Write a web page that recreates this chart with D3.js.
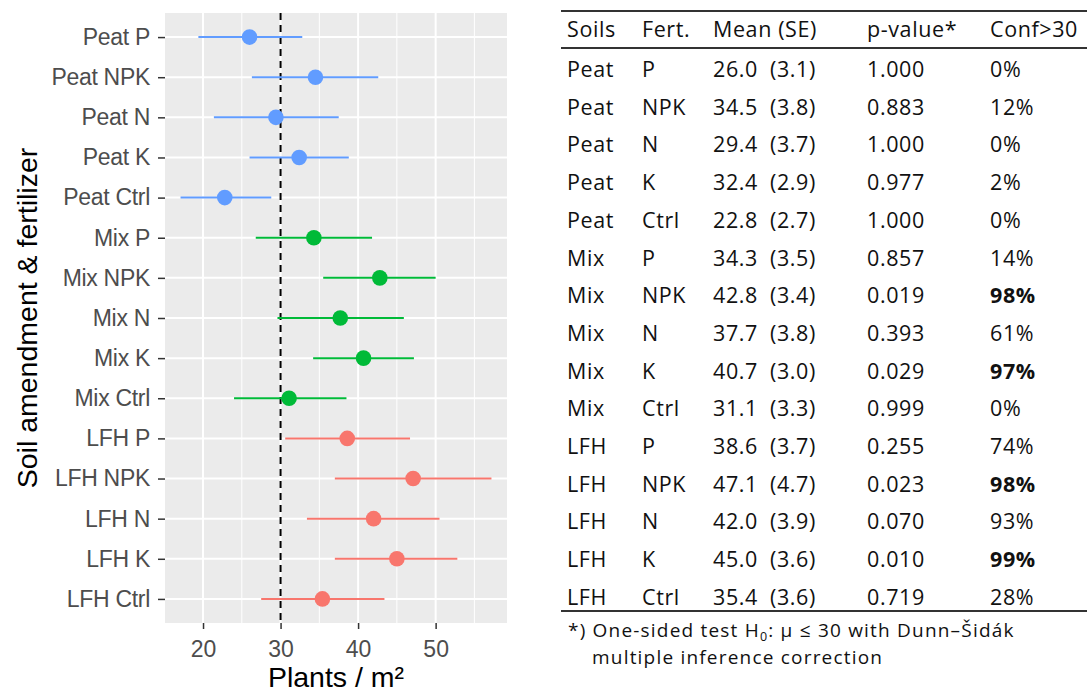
<!DOCTYPE html>
<html>
<head>
<meta charset="utf-8">
<script src="https://cdn.jsdelivr.net/npm/d3@7"></script>
<style>
  body { margin: 0; background: #fff; }
</style>
</head>
<body>
<div id="chart"></div>
<script>
// rows, in plot order top to bottom (same order as the table)
var soils = ["Peat","Peat","Peat","Peat","Peat","Mix","Mix","Mix","Mix","Mix","LFH","LFH","LFH","LFH","LFH"];
var ferts = ["P","NPK","N","K","Ctrl","P","NPK","N","K","Ctrl","P","NPK","N","K","Ctrl"];
var means = [26.0, 34.5, 29.4, 32.4, 22.8, 34.3, 42.8, 37.7, 40.7, 31.1, 38.6, 47.1, 42.0, 45.0, 35.4];
var ses   = [3.1, 3.8, 3.7, 2.9, 2.7, 3.5, 3.4, 3.8, 3.0, 3.3, 3.7, 4.7, 3.9, 3.6, 3.6];
var pvals = ["1.000","0.883","1.000","0.977","1.000","0.857","0.019","0.393","0.029","0.999","0.255","0.023","0.070","0.010","0.719"];
var confs = [0, 12, 0, 2, 0, 14, 98, 61, 97, 0, 74, 98, 93, 99, 28];
// interval ends
var ciLow  = [19.4, 26.3, 21.4, 26.0, 17.1, 26.8, 35.5, 29.6, 34.2, 24.0, 30.6, 37.0, 33.4, 37.0, 27.5];
var ciHigh = [32.8, 42.6, 37.5, 38.8, 28.8, 41.8, 50.0, 45.9, 47.2, 38.5, 46.7, 57.2, 50.5, 52.8, 43.4];

var xTicks = [20, 30, 40, 50];
var xMinor = [15, 25, 35, 45, 55];
var refValue = 30;
var soilColors = {LFH: "#F8766D", Mix: "#00BA38", Peat: "#619CFF"};
var headers = ["Soils", "Fert.", "Mean (SE)", "p-value*", "Conf>30"];

var labels = soils.map(function(s, i){ return s + " " + ferts[i]; });
var rows = labels.map(function(l, i){
    return {label: l, soil: soils[i], fert: ferts[i], mean: means[i], se: ses[i],
            p: pvals[i], conf: confs[i], lo: ciLow[i], hi: ciHigh[i]};
});

var W = 1087, H = 694;
var svg = d3.select("#chart").append("svg")
    .attr("width", W).attr("height", H)
    .style("font-family", "'Liberation Sans', Arial, sans-serif");

// ---------------- forest plot ----------------
var panel = {left: 165, right: 507, top: 13, bottom: 623};

var lo = d3.min(rows, function(d){ return d.lo; }),
    hi = d3.max(rows, function(d){ return d.hi; });
var pad = (hi - lo) * 0.05;
var x = d3.scaleLinear()
    .domain([lo - pad, hi + pad])
    .range([panel.left, panel.right]);

var y = d3.scalePoint()
    .domain(labels)
    .range([panel.top, panel.bottom])
    .padding(0.6);

svg.append("rect")
    .attr("x", panel.left).attr("y", panel.top)
    .attr("width", panel.right - panel.left)
    .attr("height", panel.bottom - panel.top)
    .attr("fill", "#EBEBEB");

var grid = svg.append("g");
grid.selectAll(".minor")
    .data(xMinor.filter(function(v){ return v >= x.domain()[0] - 0.1 && v <= x.domain()[1]; }))
    .enter().append("line")
    .attr("x1", function(d){ return x(d); }).attr("x2", function(d){ return x(d); })
    .attr("y1", panel.top).attr("y2", panel.bottom)
    .attr("stroke", "#fff").attr("stroke-width", 1);
grid.selectAll(".major")
    .data(xTicks)
    .enter().append("line")
    .attr("x1", function(d){ return x(d); }).attr("x2", function(d){ return x(d); })
    .attr("y1", panel.top).attr("y2", panel.bottom)
    .attr("stroke", "#fff").attr("stroke-width", 2);
grid.selectAll(".hgrid")
    .data(labels)
    .enter().append("line")
    .attr("x1", panel.left).attr("x2", panel.right)
    .attr("y1", function(d){ return y(d); }).attr("y2", function(d){ return y(d); })
    .attr("stroke", "#fff").attr("stroke-width", 2);

// reference line
svg.append("line")
    .attr("x1", x(refValue)).attr("x2", x(refValue))
    .attr("y1", panel.top).attr("y2", panel.bottom)
    .attr("stroke", "#000").attr("stroke-width", 2)
    .attr("stroke-dasharray", "7,5");

// intervals + points
svg.append("g").selectAll("line")
    .data(rows)
    .enter().append("line")
    .attr("x1", function(d){ return x(d.lo); })
    .attr("x2", function(d){ return x(d.hi); })
    .attr("y1", function(d){ return y(d.label); })
    .attr("y2", function(d){ return y(d.label); })
    .attr("stroke", function(d){ return soilColors[d.soil]; })
    .attr("stroke-width", 2);

svg.append("g").selectAll("circle")
    .data(rows)
    .enter().append("circle")
    .attr("cx", function(d){ return x(d.mean); })
    .attr("cy", function(d){ return y(d.label); })
    .attr("r", 7.8)
    .attr("fill", function(d){ return soilColors[d.soil]; });

// axes
var xAxis = svg.append("g")
    .attr("transform", "translate(0," + panel.bottom + ")")
    .call(d3.axisBottom(x).tickValues(xTicks).tickSize(6).tickPadding(6));
xAxis.select(".domain").remove();
xAxis.selectAll("line").attr("stroke", "#333").attr("stroke-width", 1.5);
xAxis.selectAll("text")
    .attr("fill", "#4D4D4D")
    .style("font-size", "23px")
    .style("font-family", "'Liberation Sans', Arial, sans-serif")
    .attr("dy", "0.95em");

var yAxis = svg.append("g")
    .attr("transform", "translate(" + panel.left + ",0)")
    .call(d3.axisLeft(y).tickSize(7).tickPadding(8));
yAxis.select(".domain").remove();
yAxis.selectAll("line").attr("stroke", "#333").attr("stroke-width", 1.5);
yAxis.selectAll("text")
    .attr("fill", "#4D4D4D")
    .style("font-size", "23px")
    .style("letter-spacing", "-0.3px")
    .style("font-family", "'Liberation Sans', Arial, sans-serif");

svg.append("text")
    .attr("x", (panel.left + panel.right) / 2)
    .attr("y", 687)
    .attr("text-anchor", "middle")
    .style("font-size", "28.5px")
    .text("Plants / m²");

svg.append("text")
    .attr("transform", "translate(37," + ((panel.top + panel.bottom) / 2) + ") rotate(-90)")
    .attr("text-anchor", "middle")
    .style("font-size", "28.5px")
    .text("Soil amendment & fertilizer");

// ---------------- table ----------------
var tbl = svg.append("g")
    .style("font-family", "'Open Sans', sans-serif")
    .style("font-size", "21.5px")
    .style("letter-spacing", "0.6px")
    .attr("fill", "#111");

var colX = [567, 642, 713, 867, 990];
var seX = 770;
var headY = 37, rowY0 = 77, rowStep = 37.7;

tbl.append("line").attr("x1", 561).attr("x2", W).attr("y1", 11).attr("y2", 11)
    .attr("stroke", "#333").attr("stroke-width", 2.2);
tbl.append("line").attr("x1", 561).attr("x2", W).attr("y1", 48).attr("y2", 48)
    .attr("stroke", "#333").attr("stroke-width", 2.2);
tbl.append("line").attr("x1", 561).attr("x2", W)
    .attr("y1", 611).attr("y2", 611)
    .attr("stroke", "#333").attr("stroke-width", 2.2);

tbl.selectAll(".hd")
    .data(headers)
    .enter().append("text")
    .attr("x", function(d, i){ return colX[i]; })
    .attr("y", headY)
    .text(function(d){ return d; });

var tr = tbl.selectAll(".row")
    .data(rows)
    .enter().append("g")
    .attr("transform", function(d, i){ return "translate(0," + (rowY0 + i * rowStep) + ")"; });

tr.append("text").attr("x", colX[0]).text(function(d){ return d.soil; });
tr.append("text").attr("x", colX[1]).text(function(d){ return d.fert; });
tr.append("text").attr("x", colX[2]).text(function(d){ return d.mean.toFixed(1); });
tr.append("text").attr("x", seX).text(function(d){ return "(" + d.se.toFixed(1) + ")"; });
tr.append("text").attr("x", colX[3]).text(function(d){ return d.p; });
tr.append("text").attr("x", colX[4])
    .style("font-weight", function(d){ return d.conf >= 95 ? "bold" : "normal"; })
    .text(function(d){ return d.conf + "%"; });

// footnote
var fn = svg.append("g")
    .style("font-family", "'Open Sans', sans-serif")
    .style("font-size", "19px")
    .style("letter-spacing", "1.2px")
    .attr("fill", "#111");
var l1 = fn.append("text").attr("x", 568).attr("y", 637);
l1.append("tspan").text("*) One-sided test H");
l1.append("tspan").attr("dy", 4).style("font-size", "12.5px").text("0");
l1.append("tspan").attr("dy", -4).text(": μ ≤ 30 with Dunn–Šidák");
fn.append("text").attr("x", 592).attr("y", 664).text("multiple inference correction");
</script>
</body>
</html>
